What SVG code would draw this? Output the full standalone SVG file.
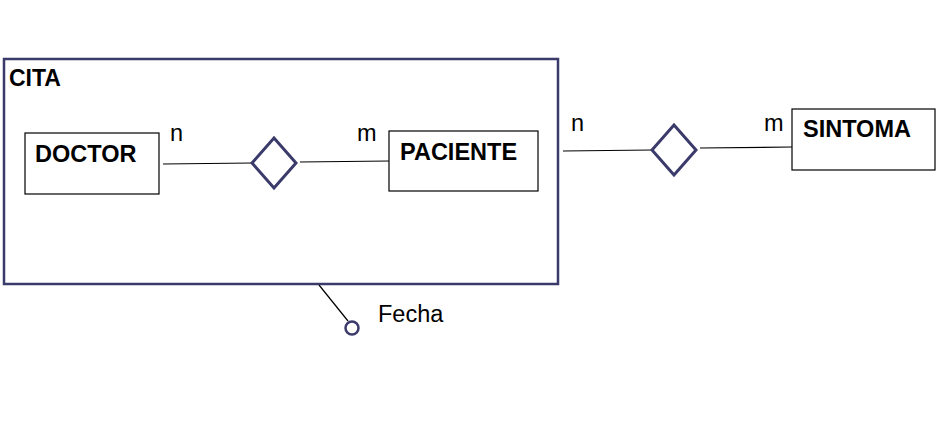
<svg xmlns="http://www.w3.org/2000/svg" width="948" height="433" viewBox="0 0 948 433">
<style>
.ent{fill:#fff;stroke:#000;stroke-width:1.2}
.rel{fill:#fff;stroke:#3b3b6b;stroke-width:3}
.agg{fill:none;stroke:#3b3b6b;stroke-width:2.5}
.ln{fill:none;stroke:#000;stroke-width:1.2}
.b{font-family:"Liberation Sans",Arial,sans-serif;font-weight:bold;font-size:23.5px;fill:#000}
.t{font-family:"Liberation Sans",Arial,sans-serif;font-size:23.5px;fill:#000}
</style>
<rect width="948" height="433" fill="#fff"/>
<g id="cita">
<rect class="agg" x="4" y="59" width="554" height="225"/>
<text class="b" x="9" y="86" style="font-size:23px">CITA</text>
</g>
<g id="connectors">
<line class="ln" x1="163" y1="164" x2="252" y2="163"/>
<line class="ln" x1="300" y1="162" x2="389" y2="161"/>
<line class="ln" x1="563" y1="151" x2="652" y2="150"/>
<line class="ln" x1="700" y1="148" x2="792" y2="147"/>
<line class="ln" x1="319" y1="285" x2="348" y2="321"/>
<text class="t" x="170" y="141">n</text>
<text class="t" x="357" y="141">m</text>
<text class="t" x="571" y="131">n</text>
<text class="t" x="764" y="131">m</text>
</g>
<g id="doctor">
<rect class="ent" x="25" y="133" width="134" height="61"/>
<text class="b" x="35" y="162">DOCTOR</text>
</g>
<g id="rel1">
<polygon class="rel" points="274,138 296,163 274,188 252,163"/>
</g>
<g id="paciente">
<rect class="ent" x="389" y="131" width="149" height="60"/>
<text class="b" x="400" y="160">PACIENTE</text>
</g>
<g id="rel2">
<polygon class="rel" points="674,125 696,150 674,175 652,150"/>
</g>
<g id="sintoma">
<rect class="ent" x="792" y="109" width="143" height="61"/>
<text class="b" x="803" y="137">SINTOMA</text>
</g>
<g id="fecha">
<circle cx="352" cy="328" r="6.5" fill="#fff" stroke="#3b3b6b" stroke-width="2.5"/>
<text class="t" x="378" y="322">Fecha</text>
</g>
</svg>
